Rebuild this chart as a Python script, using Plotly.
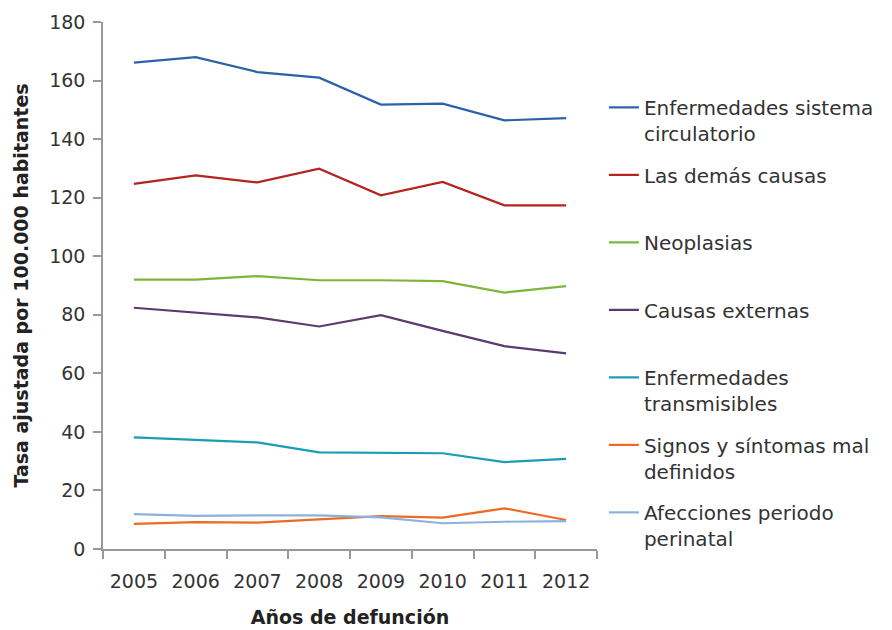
import plotly.graph_objects as go

years = ["2005", "2006", "2007", "2008", "2009", "2010", "2011", "2012"]

circulatorio = [166.1, 168.0, 162.9, 161.0, 151.8, 152.1, 146.4, 147.2]
demas_causas = [124.7, 127.6, 125.2, 129.9, 120.8, 125.4, 117.4, 117.4]
neoplasias = [92.0, 92.0, 93.2, 91.8, 91.8, 91.5, 87.6, 89.8]
externas = [82.4, 80.8, 79.1, 76.0, 79.9, 74.5, 69.3, 66.8]
transmisibles = [38.1, 37.2, 36.4, 33.0, 32.9, 32.7, 29.7, 30.8]
signos = [8.6, 9.2, 9.0, 10.1, 11.2, 10.7, 13.9, 9.9]
perinatal = [11.9, 11.3, 11.5, 11.5, 10.8, 8.8, 9.3, 9.5]

series_names = [
    "Enfermedades sistema<br>circulatorio",
    "Las demás causas<br> ",
    "Neoplasias<br> ",
    "Causas externas<br> ",
    "Enfermedades<br>transmisibles",
    "Signos y síntomas mal<br>definidos",
    "Afecciones periodo<br>perinatal",
]
series_values = [circulatorio, demas_causas, neoplasias, externas,
                 transmisibles, signos, perinatal]
series_colors = ["#2B62A8", "#B5241F", "#7DB53A", "#5B3B6E",
                 "#1A9CB5", "#EE6A24", "#8DB1DC"]

fig = go.Figure()
for i, (name, vals, col) in enumerate(zip(series_names, series_values, series_colors)):
    fig.add_trace(go.Scatter(
        x=years, y=vals, mode="lines", name=name,
        legendgroup=f"g{i}",
        line=dict(color=col, width=2.2),
    ))

FONT = "DejaVu Sans"
fig.update_layout(
    width=892, height=630,
    margin=dict(l=103, r=295, t=22, b=81, autoexpand=False),
    paper_bgcolor="white", plot_bgcolor="white",
    font=dict(family=FONT, color="#333333", size=19),
    showlegend=True,
    legend=dict(
        x=1.014, xanchor="left", y=0.875, yanchor="top",
        font=dict(family=FONT, size=20, color="#333333"),
        valign="top", tracegroupgap=12.5, itemwidth=30,
        bgcolor="rgba(0,0,0,0)",
    ),
    xaxis=dict(
        type="category", range=[-0.5, 7.5],
        showline=True, linecolor="#999999", linewidth=1.5,
        ticks="outside", tickson="boundaries", ticklen=8,
        tickcolor="#999999", tickwidth=1.5, ticklabelstandoff=14,
        showgrid=False, zeroline=False,
        tickfont=dict(family=FONT, size=19, color="#333333"),
        title=dict(text="<b>Años de defunción</b>", standoff=20,
                   font=dict(family=FONT, size=19, color="#222222")),
    ),
    yaxis=dict(
        range=[0, 180], dtick=20,
        showline=True, linecolor="#999999", linewidth=1.5,
        ticks="outside", ticklen=8, tickcolor="#999999", tickwidth=1.5,
        ticklabelstandoff=4,
        showgrid=False, zeroline=False,
        tickfont=dict(family=FONT, size=19, color="#333333"),
        title=dict(text="<b>Tasa ajustada por 100.000 habitantes</b>", standoff=16,
                   font=dict(family=FONT, size=19, color="#222222")),
    ),
)

fig.write_html("out.html")
